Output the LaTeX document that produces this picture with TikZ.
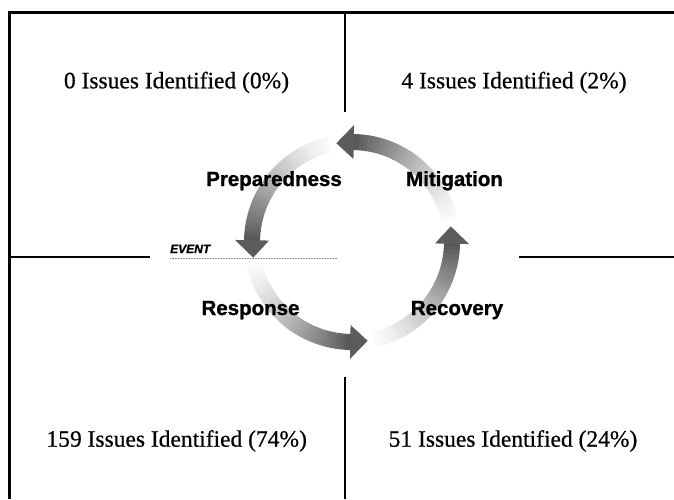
\documentclass[tikz,border=0pt]{standalone}
\usepackage{fontspec}
\setmainfont[FakeBold=0.6]{Liberation Serif}
\newfontfamily\phasefont[FakeBold=1.2]{Liberation Sans}
\tikzset{
  frameline/.style={line width=3pt},
  quadline/.style={line width=1.5pt},
  count/.style={font=\fontsize{23.5}{28}\selectfont, anchor=base},
  phase/.style={font=\phasefont\bfseries\fontsize{20.5}{24}\selectfont, anchor=base},
}
\begin{document}
\begin{tikzpicture}[x=1pt, y=1pt]
    \useasboundingbox (0,0) rectangle (674,499);

    % Frame
    \draw[frameline] (9,0) -- (9,486) -- (674,486);

    % Quadrant dividers
    \draw[quadline] (345,486) -- (345,387);
    \draw[quadline] (345,122) -- (345,0);
    \draw[quadline] (9,242) -- (150,242);
    \draw[quadline] (519,242) -- (674,242);

    % Cycle arrows
    \coordinate (hub) at (352,257);
    \foreach \tip in {99,189,279,369} {
        \foreach \k in {0,...,34} {
            \pgfmathsetmacro\ang{\tip-86+\k*2.2}
            \pgfmathsetmacro\tone{round(2+64*(\k/34)^1.3)}
            \draw[line width=16pt, black!\tone] ([shift={(\ang:100)}]hub) arc[start angle=\ang, end angle=\ang+2.6, radius=100];
        }
        \fill[black!64] ([shift={(\tip-10:83)}]hub) -- ([shift={(\tip:100)}]hub) -- ([shift={(\tip-10:117)}]hub) -- cycle;
    }

    % Event line
    \node[font=\phasefont\bfseries\itshape\fontsize{12}{14}\selectfont, anchor=base west, inner sep=0pt] (event) at (170,246) {EVENT};
    \draw[black!45, densely dotted, line width=0.6pt] (170,241) -- (337,241);

    % Phase labels
    \node[phase] (prep) at (274,313) {Preparedness};
    \node[phase] (miti) at (454.5,313) {Mitigation};
    \node[phase] (resp) at (250.5,184) {Response};
    \node[phase] (reco) at (457,184) {Recovery};

    % Issue counts
    \node[count] (q1) at (176.5,410.7) {0 Issues Identified (0\%)};
    \node[count] (q2) at (514,410.7) {4 Issues Identified (2\%)};
    \node[count] (q3) at (176.7,52.3) {159 Issues Identified (74\%)};
    \node[count] (q4) at (513,52.3) {51 Issues Identified (24\%)};
\end{tikzpicture}
\end{document}
